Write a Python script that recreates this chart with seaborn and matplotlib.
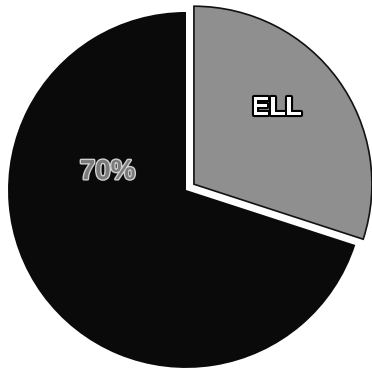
import matplotlib
matplotlib.use("Agg")
import matplotlib.pyplot as plt
import matplotlib.patheffects as pe
import seaborn as sns

categories = ["ELL", "Non-ELL"]
values = [30, 70]
slice_labels = ["ELL", "70%"]
colors = ["#8f8f8f", "#0a0a0a"]
explode = [0.055, 0.0]

sns.set_theme(style="white")
plt.rcParams["font.family"] = ["Liberation Sans Narrow", "Liberation Sans", "DejaVu Sans"]

fig = plt.figure(figsize=(3.72, 3.68), dpi=100)
ax = fig.add_axes([0, 0, 1, 1])
wedges, _ = ax.pie(values, colors=colors, explode=explode, startangle=90,
                   counterclock=False, radius=1.0,
                   wedgeprops=dict(linewidth=0))
wedges[0].set_edgecolor("#111111")
wedges[0].set_linewidth(1.2)

ax.text(0.51, 0.46, slice_labels[0], ha="center", va="center", fontsize=19,
        fontweight="bold", color="white",
        path_effects=[pe.withStroke(linewidth=3, foreground="black")])
ax.text(-0.44, 0.10, slice_labels[1], ha="center", va="center", fontsize=20,
        fontweight="bold", color="#7a7a7a",
        path_effects=[pe.withStroke(linewidth=2, foreground="#d0d0d0")])

ax.set_xlim(-1.045, 1.045)
ax.set_ylim(-1.0, 1.067)
ax.set_aspect("equal")
ax.axis("off")
fig.savefig("out.png", dpi=100, facecolor="white")
